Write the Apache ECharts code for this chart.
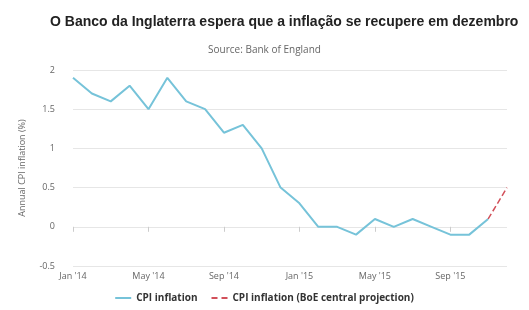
<!DOCTYPE html>
<html lang="en">
<head>
    <meta charset="UTF-8">
    <title>CPI inflation</title>
    <style>
        html, body { margin: 0; padding: 0; background: #fff; }
        #chart { width: 529px; height: 310px; }
    </style>
</head>
<body>
    <div id="chart"></div>
    <script src="https://cdn.jsdelivr.net/npm/echarts@6/dist/echarts.min.js"></script>
    <script>
        // months Jan '14 .. Dec '15
        const months = ['Jan \'14', 'Feb \'14', 'Mar \'14', 'Apr \'14', 'May \'14', 'Jun \'14',
            'Jul \'14', 'Aug \'14', 'Sep \'14', 'Oct \'14', 'Nov \'14', 'Dec \'14',
            'Jan \'15', 'Feb \'15', 'Mar \'15', 'Apr \'15', 'May \'15', 'Jun \'15',
            'Jul \'15', 'Aug \'15', 'Sep \'15', 'Oct \'15', 'Nov \'15', 'Dec \'15']

        const cpi = [1.9, 1.7, 1.6, 1.8, 1.5, 1.9, 1.6, 1.5, 1.2, 1.3, 1.0, 0.5,
            0.3, 0.0, 0.0, -0.1, 0.1, 0.0, 0.1, 0.0, -0.1, -0.1, 0.1, null]

        const projection = [null, null, null, null, null, null, null, null, null, null, null, null,
            null, null, null, null, null, null, null, null, null, null, 0.1, 0.5]

        const chart = echarts.init(document.getElementById('chart'))

        chart.setOption({
            animation: false,
            title: [{
                text: 'O Banco da Inglaterra espera que a inflação se recupere em dezembro',
                left: 45,
                top: 10,
                textStyle: { fontFamily: 'Liberation Sans', fontSize: 14, fontWeight: 'bold', color: '#222' }
            }, {
                text: 'Source: Bank of England',
                left: 'center',
                top: 40,
                textStyle: { fontFamily: 'Open Sans', fontSize: 10, fontWeight: 'normal', color: '#666' }
            }],
            legend: {
                bottom: 2,
                left: 'center',
                itemWidth: 16,
                itemHeight: 2,
                itemGap: 14,
                icon: 'rect',
                textStyle: { fontFamily: 'Open Sans', fontSize: 10, fontWeight: 'bold', color: '#333' },
                data: [
                    { name: 'CPI inflation' },
                    { name: 'CPI inflation (BoE central projection)', icon: 'path://M0,0h6v2h-6zM10,0h6v2h-6z' }
                ]
            },
            grid: { left: 73, right: 22, top: 70, bottom: 44 },
            xAxis: {
                type: 'category',
                data: months,
                boundaryGap: false,
                axisLine: { show: false },
                axisTick: { show: true, interval: 3, lineStyle: { color: '#ccc' } },
                axisLabel: { interval: 3, color: '#666', fontFamily: 'Open Sans', fontSize: 9, margin: 6 },
                splitLine: { show: false }
            },
            yAxis: {
                type: 'value',
                min: -0.5,
                max: 2,
                interval: 0.5,
                name: 'Annual CPI inflation (%)',
                nameLocation: 'middle',
                nameGap: 46,
                nameTextStyle: { color: '#666', fontFamily: 'Open Sans', fontSize: 9 },
                axisLabel: { color: '#666', fontFamily: 'Open Sans', fontSize: 9, margin: 18 },
                splitLine: { lineStyle: { color: '#e6e6e6' } }
            },
            series: [{
                name: 'CPI inflation',
                type: 'line',
                data: cpi,
                showSymbol: false,
                color: '#76c3d9',
                lineStyle: { width: 2 }
            }, {
                name: 'CPI inflation (BoE central projection)',
                type: 'line',
                data: projection,
                showSymbol: false,
                color: '#d2505a',
                lineStyle: { width: 1.5, type: 'dashed' }
            }]
        })
    </script>
</body>
</html>
